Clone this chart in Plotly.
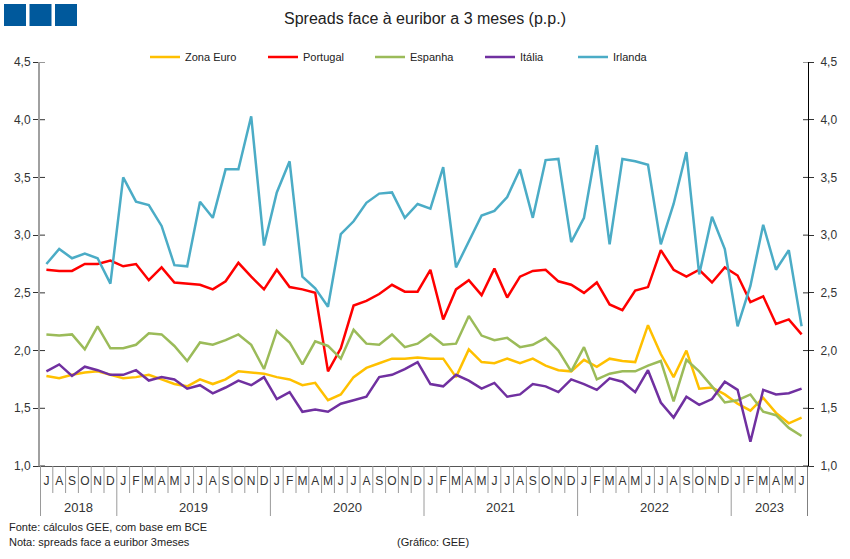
import plotly.graph_objects as go
import pandas as pd

months = [d.strftime("%Y-%m") for d in pd.date_range("2018-07-01", "2023-06-01", freq="MS")]
month_letters = ["J", "F", "M", "A", "M", "J", "J", "A", "S", "O", "N", "D"]
tick_text = [month_letters[int(m[5:]) - 1] for m in months]
years = ["2018", "2019", "2020", "2021", "2022", "2023"]

zona_euro = [1.78, 1.76, 1.79, 1.81, 1.82, 1.79, 1.76, 1.77, 1.79, 1.75, 1.71, 1.69,
             1.75, 1.71, 1.75, 1.82, 1.81, 1.80, 1.77, 1.75, 1.70, 1.72, 1.57, 1.62,
             1.77, 1.85, 1.89, 1.93, 1.93, 1.94, 1.93, 1.93, 1.77, 2.01, 1.90, 1.89,
             1.93, 1.89, 1.93, 1.87, 1.83, 1.82, 1.92, 1.86, 1.93, 1.91, 1.90, 2.22,
             1.97, 1.77, 2.00, 1.67, 1.68, 1.62, 1.54, 1.48, 1.59, 1.46, 1.37, 1.42]
portugal = [2.70, 2.69, 2.69, 2.75, 2.75, 2.78, 2.73, 2.75, 2.61, 2.72, 2.59, 2.58,
            2.57, 2.53, 2.60, 2.76, 2.64, 2.53, 2.70, 2.55, 2.53, 2.50, 1.82, 2.02,
            2.39, 2.43, 2.49, 2.57, 2.51, 2.51, 2.70, 2.27, 2.53, 2.61, 2.48, 2.71,
            2.46, 2.64, 2.69, 2.70, 2.60, 2.57, 2.50, 2.59, 2.40, 2.35, 2.52, 2.55,
            2.87, 2.70, 2.64, 2.70, 2.59, 2.72, 2.65, 2.42, 2.47, 2.23, 2.27, 2.14]
espanha = [2.14, 2.13, 2.14, 2.01, 2.21, 2.02, 2.02, 2.05, 2.15, 2.14, 2.04, 1.91,
           2.07, 2.05, 2.09, 2.14, 2.05, 1.84, 2.17, 2.07, 1.88, 2.08, 2.04, 1.93,
           2.18, 2.06, 2.05, 2.14, 2.03, 2.06, 2.14, 2.05, 2.06, 2.30, 2.13, 2.09,
           2.11, 2.03, 2.05, 2.11, 2.00, 1.82, 2.03, 1.75, 1.80, 1.82, 1.82, 1.87,
           1.91, 1.56, 1.92, 1.82, 1.69, 1.55, 1.57, 1.62, 1.47, 1.44, 1.33, 1.26]
italia = [1.82, 1.88, 1.78, 1.86, 1.83, 1.79, 1.79, 1.83, 1.74, 1.77, 1.75, 1.67,
          1.70, 1.63, 1.68, 1.74, 1.70, 1.77, 1.58, 1.64, 1.47, 1.49, 1.47, 1.54,
          1.57, 1.60, 1.77, 1.79, 1.84, 1.90, 1.71, 1.69, 1.79, 1.74, 1.67, 1.72,
          1.60, 1.62, 1.71, 1.69, 1.64, 1.75, 1.71, 1.66, 1.76, 1.73, 1.64, 1.83,
          1.55, 1.42, 1.60, 1.53, 1.58, 1.73, 1.66, 1.21, 1.66, 1.62, 1.63, 1.67]
irlanda = [2.75, 2.88, 2.80, 2.84, 2.80, 2.58, 3.50, 3.29, 3.26, 3.08, 2.74, 2.73,
           3.29, 3.15, 3.57, 3.57, 4.03, 2.91, 3.37, 3.64, 2.64, 2.54, 2.38, 3.01,
           3.12, 3.28, 3.36, 3.37, 3.15, 3.27, 3.23, 3.59, 2.72, 2.94, 3.17, 3.21,
           3.33, 3.57, 3.15, 3.65, 3.66, 2.94, 3.15, 3.78, 2.92, 3.66, 3.64, 3.61,
           2.92, 3.27, 3.72, 2.66, 3.16, 2.88, 2.21, 2.56, 3.09, 2.70, 2.87, 2.21]

series = [("Zona Euro", zona_euro, "#FFC000"),
          ("Portugal", portugal, "#FF0000"),
          ("Espanha", espanha, "#9BBB59"),
          ("Itália", italia, "#7030A0"),
          ("Irlanda", irlanda, "#4BACC6")]
legend_text_x = [185, 303, 410, 520, 613]   # pixel x where each legend label starts

FONT = "Liberation Sans, Arial, sans-serif"

W, H = 850, 559
L, R, T, B = 40, 42, 62, 93
pw, ph = W - L - R, H - T - B

fig = go.Figure()
legend_layouts = {}
for k, (name, vals, col) in enumerate(series):
    lname = "legend" if k == 0 else f"legend{k + 1}"
    fig.add_trace(go.Scatter(x=months, y=vals, name=name, mode="lines", legend=lname,
                             line=dict(color=col, width=2.5)))
    legend_layouts[lname] = dict(orientation="h", x=(legend_text_x[k] - 40 - L) / pw, xanchor="left",
                                 y=(H - B - 57) / ph, yanchor="middle",
                                 font=dict(family=FONT, size=11, color="#222222"),
                                 bgcolor="rgba(0,0,0,0)", itemwidth=30)
fig.add_trace(go.Scatter(x=months, y=zona_euro, yaxis="y2", mode="lines",
                         line=dict(width=0), opacity=0, showlegend=False, hoverinfo="skip"))

shapes = []
n = len(months)
year_bounds = [-0.5] + [i - 0.5 for i, m in enumerate(months) if m.endswith("-01")] + [n - 0.5]
for k in range(n - 1):
    xb = k + 0.5
    if xb in year_bounds:
        continue
    shapes.append(dict(type="line", xref="x", yref="paper", x0=xb, x1=xb, y0=0, y1=-27 / ph,
                       line=dict(color="#9a9a9a", width=1)))
for xb in year_bounds:
    colr = "#000000" if xb == n - 0.5 else "#9a9a9a"
    wid = 1 if xb == n - 0.5 else (2 if xb == -0.5 else 1)
    shapes.append(dict(type="line", xref="x", yref="paper", x0=xb, x1=xb, y0=0, y1=-50 / ph,
                       line=dict(color=colr, width=wid)))
yticks = [1.0, 1.5, 2.0, 2.5, 3.0, 3.5, 4.0, 4.5]
for v in yticks:
    shapes.append(dict(type="line", xref="paper", yref="y", x0=0, x1=5 / pw, y0=v, y1=v,
                       line=dict(color="#333333", width=1)))
    shapes.append(dict(type="line", xref="paper", yref="y", x0=1 - 5 / pw, x1=1, y0=v, y1=v,
                       line=dict(color="#333333", width=1)))
# blue squares
for sx in [4, 29.5, 55]:
    shapes.append(dict(type="rect", xref="paper", yref="paper",
                       x0=(sx - L) / pw, x1=(sx + 22 - L) / pw,
                       y0=(H - B - 4) / ph, y1=(H - B - 26) / ph,
                       fillcolor="#00599C", line=dict(width=0)))

annotations = []
starts = year_bounds[:-1]
ends = year_bounds[1:]
for yr, s, e in zip(years, starts, ends):
    annotations.append(dict(x=(s + e) / 2, y=-41 / ph, xref="x", yref="paper", text=yr,
                            showarrow=False, font=dict(family=FONT, size=13, color="#333333"),
                            xanchor="center", yanchor="middle"))
foot = dict(family=FONT, size=11, color="#222222")
annotations.append(dict(x=(7 - L) / pw, y=-(527 - (H - B)) / ph, xref="paper", yref="paper",
                        text="Fonte: cálculos GEE, com base em BCE", showarrow=False,
                        xanchor="left", yanchor="middle", font=foot))
annotations.append(dict(x=(7 - L) / pw, y=-(542 - (H - B)) / ph, xref="paper", yref="paper",
                        text="Nota: spreads face a euribor 3meses", showarrow=False,
                        xanchor="left", yanchor="middle", font=foot))
annotations.append(dict(x=(395 - L) / pw, y=-(542 - (H - B)) / ph, xref="paper", yref="paper",
                        text="(Gráfico: GEE)", showarrow=False,
                        xanchor="left", yanchor="middle", font=foot))

fig.update_layout(
    width=W, height=H,
    margin=dict(l=L, r=R, t=T, b=B),
    paper_bgcolor="white", plot_bgcolor="white",
    separators=",.",
    font=dict(family=FONT, size=12, color="#333333"),
    title=dict(text="Spreads face à euribor a 3 meses (p.p.)", x=0.5, xanchor="center",
               y=1 - 18 / H, yanchor="middle", font=dict(family=FONT, size=16, color="#222222")),
    showlegend=True,
    xaxis=dict(type="category", categoryorder="array", categoryarray=months,
               range=[-0.5, n - 0.5], tickmode="array", tickvals=months, ticktext=tick_text,
               ticks="", showline=True, linecolor="#555555", linewidth=1, showgrid=False,
               zeroline=False, tickangle=0, ticklabelstandoff=4,
               tickfont=dict(family=FONT, size=12, color="#333333")),
    yaxis=dict(range=[1.0, 4.5], tickvals=yticks, tickformat=".1f", ticks="outside", ticklen=5,
               tickcolor="#333333", showline=True, linecolor="#a0a0a0", linewidth=2,
               showgrid=False, zeroline=False, tickfont=dict(size=12, color="#333333")),
    yaxis2=dict(range=[1.0, 4.5], tickvals=yticks, tickformat=".1f", ticks="outside", ticklen=5,
                tickcolor="#333333", overlaying="y", side="right", showline=True,
                linecolor="#000000", linewidth=1, showgrid=False, zeroline=False,
                ticklabelstandoff=4, tickfont=dict(size=12, color="#333333")),
    shapes=shapes,
    annotations=annotations,
    **legend_layouts,
)

fig.write_html("out.html")
